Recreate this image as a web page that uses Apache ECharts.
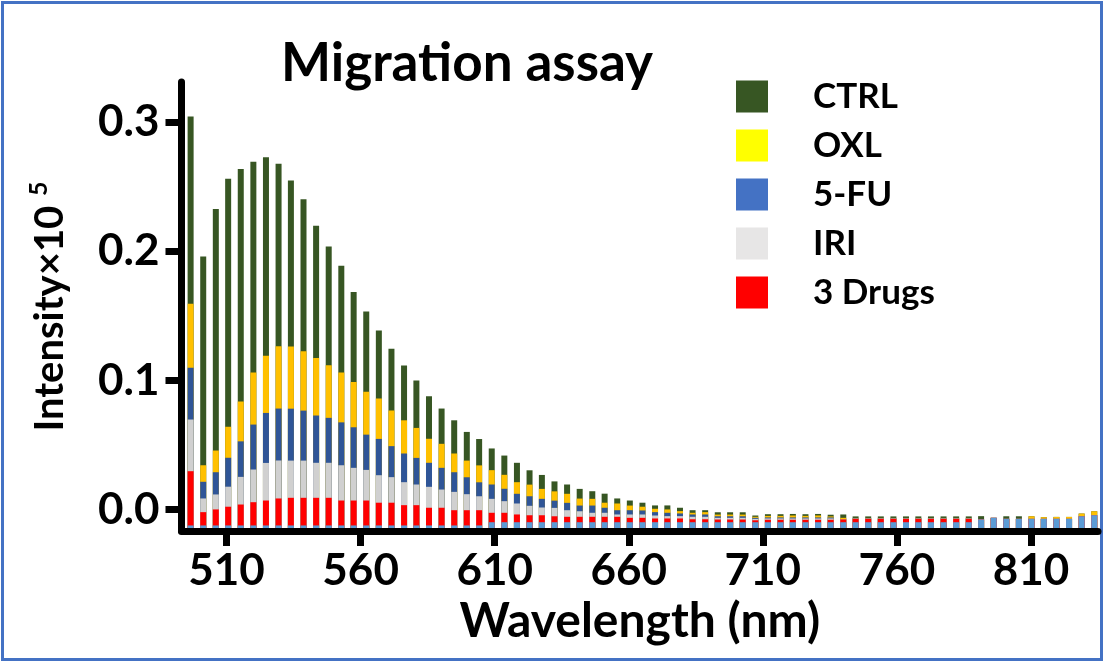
<!DOCTYPE html>
<html>
<head>
<meta charset="utf-8">
<script src="https://cdn.jsdelivr.net/npm/echarts@6/dist/echarts.min.js"></script>
<style>
  html, body { margin: 0; padding: 0; background: #fff; }
  #chart { width: 1105px; height: 663px; }
</style>
</head>
<body>
<div id="chart"></div>
<script>
// wavelength of every bar (nm)
const wavelengths = [
  496.6, 501.3, 506.0, 510.6, 515.3, 520.0, 524.7, 529.4, 534.0, 538.7,
  543.4, 548.1, 552.8, 557.4, 562.1, 566.8, 571.5, 576.2, 580.8, 585.5,
  590.2, 594.9, 599.6, 604.2, 608.9, 613.6, 618.3, 623.0, 627.6, 632.3,
  637.0, 641.7, 646.4, 651.0, 655.7, 660.4, 665.1, 669.8, 674.4, 679.1,
  683.8, 688.5, 693.2, 697.8, 702.5, 707.2, 711.9, 716.6, 721.2, 725.9,
  730.6, 735.3, 740.0, 744.6, 749.3, 754.0, 758.7, 763.4, 768.0, 772.7,
  777.4, 782.1, 786.8, 791.4, 796.1, 800.8, 805.5, 810.2, 814.8, 819.5,
  824.2, 828.9, 833.6
];

// layer heights (Intensity x10^5), bottom layer first
const baseLayer = [
  0.0043, 0.0043, 0.0043, 0.0043, 0.0043, 0.0043, 0.0043, 0.0043, 0.0043, 0.0043,
  0.0043, 0.0043, 0.0043, 0.0043, 0.0043, 0.0043, 0.0043, 0.0043, 0.0043, 0.0043,
  0.0043, 0.0043, 0.0043, 0.0043, 0.0068, 0.0068, 0.0068, 0.0068, 0.0068, 0.0068,
  0.0068, 0.0068, 0.0068, 0.0068, 0.0068, 0.0068, 0.0068, 0.0068, 0.0068, 0.0068,
  0.0068, 0.0068, 0.0068, 0.0068, 0.0068, 0.0068, 0.0068, 0.0068, 0.0068, 0.0068,
  0.0068, 0.0068, 0.0068, 0.0068, 0.0068, 0.0068, 0.0068, 0.0068, 0.0068, 0.0068,
  0.0068, 0.0068, 0.0068, 0.0089, 0.0102, 0.0094, 0.0094, 0.0094, 0.0094, 0.0094,
  0.0094, 0.0114, 0.0122
];
const drugs = [
  0.0420, 0.0103, 0.0124, 0.0145, 0.0162, 0.0180, 0.0193, 0.0209, 0.0214, 0.0214,
  0.0214, 0.0214, 0.0193, 0.0193, 0.0193, 0.0176, 0.0176, 0.0157, 0.0157, 0.0137,
  0.0137, 0.0118, 0.0118, 0.0118, 0.0073, 0.0073, 0.0060, 0.0054, 0.0054, 0.0046,
  0.0042, 0.0042, 0.0042, 0.0042, 0.0042, 0.0034, 0.0034, 0.0029, 0.0029, 0.0029,
  0.0023, 0.0023, 0.0021, 0.0021, 0.0021, 0.0015, 0.0019, 0.0019, 0.0019, 0.0019,
  0.0019, 0.0019, 0.0021, 0.0026, 0.0026, 0.0026, 0.0026, 0.0026, 0.0026, 0.0026,
  0.0026, 0.0026, 0.0026, 0, 0, 0, 0, 0, 0, 0,
  0, 0, 0
];
const iri = [
  0.0400, 0.0106, 0.0116, 0.0155, 0.0214, 0.0253, 0.0291, 0.0294, 0.0288, 0.0288,
  0.0271, 0.0271, 0.0273, 0.0253, 0.0237, 0.0213, 0.0198, 0.0178, 0.0160, 0.0162,
  0.0141, 0.0142, 0.0124, 0.0108, 0.0108, 0.0090, 0.0085, 0.0073, 0.0060, 0.0065,
  0.0051, 0.0043, 0.0031, 0.0031, 0.0018, 0.0026, 0.0026, 0.0023, 0.0018, 0.0018,
  0.0019, 0.0019, 0.0013, 0.0013, 0.0013, 0.0011, 0.0010, 0.0010, 0.0010, 0.0010,
  0.0010, 0.0010, 0, 0.0002, 0.0002, 0.0002, 0.0002, 0.0002, 0.0002, 0.0002,
  0.0002, 0.0002, 0.0002, 0, 0, 0, 0, 0, 0, 0,
  0, 0, 0
];
const fu = [
  0.0400, 0.0129, 0.0172, 0.0224, 0.0275, 0.0348, 0.0387, 0.0402, 0.0402, 0.0387,
  0.0366, 0.0348, 0.0332, 0.0314, 0.0273, 0.0281, 0.0240, 0.0222, 0.0206, 0.0186,
  0.0168, 0.0152, 0.0131, 0.0108, 0.0111, 0.0096, 0.0075, 0.0074, 0.0067, 0.0056,
  0.0057, 0.0044, 0.0056, 0.0039, 0.0033, 0.0033, 0.0031, 0.0026, 0.0026, 0.0021,
  0.0018, 0.0018, 0.0012, 0.0012, 0.0012, 0.0008, 0.0008, 0.0008, 0.0008, 0.0008,
  0.0008, 0.0008, 0, 0.0002, 0.0002, 0.0002, 0.0002, 0.0002, 0.0002, 0.0002,
  0.0002, 0.0002, 0.0002, 0, 0, 0, 0, 0, 0, 0,
  0, 0, 0
];
const oxl = [
  0.0497, 0.0128, 0.0168, 0.0240, 0.0309, 0.0404, 0.0443, 0.0482, 0.0482, 0.0459,
  0.0446, 0.0407, 0.0387, 0.0351, 0.0332, 0.0312, 0.0276, 0.0257, 0.0232, 0.0186,
  0.0186, 0.0145, 0.0129, 0.0131, 0.0111, 0.0108, 0.0090, 0.0090, 0.0077, 0.0072,
  0.0070, 0.0054, 0.0052, 0.0039, 0.0052, 0.0036, 0.0029, 0.0026, 0.0026, 0.0018,
  0.0013, 0.0018, 0.0013, 0.0013, 0.0013, 0.0008, 0.0012, 0.0012, 0.0015, 0.0012,
  0.0015, 0.0008, 0.0013, 0.0003, 0.0003, 0.0003, 0.0003, 0.0003, 0.0003, 0.0003,
  0.0003, 0.0003, 0.0003, 0, 0, 0, 0, 0.0020, 0.0013, 0.0015,
  0.0015, 0.0021, 0.0031
];
const ctrl = [
  0.1448, 0.1616, 0.1869, 0.1920, 0.1799, 0.1631, 0.1536, 0.1413, 0.1284, 0.1178,
  0.1023, 0.0920, 0.0825, 0.0696, 0.0622, 0.0528, 0.0477, 0.0425, 0.0368, 0.0329,
  0.0273, 0.0257, 0.0222, 0.0204, 0.0168, 0.0149, 0.0150, 0.0111, 0.0108, 0.0077,
  0.0072, 0.0075, 0.0059, 0.0070, 0.0039, 0.0039, 0.0031, 0.0026, 0.0031, 0.0026,
  0.0020, 0.0015, 0.0018, 0.0018, 0.0018, 0.0010, 0.0013, 0.0013, 0.0012, 0.0013,
  0.0012, 0.0013, 0.0026, 0.0012, 0.0012, 0.0012, 0.0012, 0.0012, 0.0012, 0.0012,
  0.0012, 0.0012, 0.0012, 0.0026, 0, 0.0020, 0.0020, 0, 0, 0,
  0, 0, 0
];

const xTicks = [510, 560, 610, 660, 710, 760, 810];
const yTicks = [0, 0.1, 0.2, 0.3];

// y axis floor sits a bit below 0.0, bars grow from the floor
const axisMin = -0.0166;
const axisMax = 0.331;

const FONT = 'Lato';

// running tops, bottom -> top
const layers = [baseLayer, drugs, iri, fu, oxl, ctrl];
const tops = [];
let run = wavelengths.map(() => axisMin);
layers.forEach(arr => {
  run = run.map((v, i) => +(v + arr[i]).toFixed(4));
  tops.push(run);
});

// drawn back to front: tallest first
const seriesDefs = [
  { name: 'CTRL', color: '#375623', legend: '#375623', top: tops[5] },
  { name: 'OXL', color: '#FFC000', legend: '#FFFF00', top: tops[4] },
  { name: '5-FU', color: '#2F5597', legend: '#4472C4', top: tops[3] },
  { name: 'IRI', color: '#D0D0D0', legend: '#E7E6E6', top: tops[2] },
  { name: '3 Drugs', color: '#FF0000', legend: '#FF0000', top: tops[1] },
  { name: 'base', color: '#5B9BD5', legend: null, top: tops[0] }
];

const chart = echarts.init(document.getElementById('chart'));

chart.setOption({
  animation: false,
  backgroundColor: '#fff',
  title: {
    text: 'Migration assay',
    left: 276,
    top: 32,
    textStyle: { fontFamily: FONT, fontSize: 53, fontWeight: 'bold', color: '#000' }
  },
  legend: {
    orient: 'vertical',
    left: 731,
    top: 74,
    itemWidth: 32,
    itemHeight: 32,
    itemGap: 14,
    icon: 'rect',
    selectedMode: false,
    data: seriesDefs.filter(s => s.legend).map(s => ({ name: s.name, itemStyle: { color: s.legend } })),
    textStyle: { fontFamily: FONT, fontSize: 35, fontWeight: 'bold', color: '#000', padding: [0, 0, 0, 40] }
  },
  grid: { left: 181.5, right: 7, top: 82, bottom: 132 },
  xAxis: {
    type: 'value',
    min: 493.2,
    max: 835,
    z: 5,
    name: 'Wavelength (nm)',
    nameLocation: 'middle',
    nameGap: 62,
    nameTextStyle: { fontFamily: FONT, fontSize: 48, fontWeight: 'bold', color: '#000' },
    axisLine: { show: true, onZero: false, lineStyle: { color: '#000', width: 7 } },
    axisTick: { show: true, length: 15, customValues: xTicks, lineStyle: { color: '#000', width: 7 } },
    axisLabel: {
      customValues: xTicks,
      margin: 18,
      fontFamily: FONT, fontSize: 44, fontWeight: 'bold', color: '#000'
    },
    splitLine: { show: false }
  },
  yAxis: {
    type: 'value',
    min: axisMin,
    max: axisMax,
    startValue: axisMin,
    z: 5,
    name: 'Intensity×10 {sup|5}',
    nameLocation: 'middle',
    nameRotate: 90,
    nameGap: 108,
    nameTextStyle: {
      fontFamily: FONT, fontSize: 40, fontWeight: 'bold', color: '#000',
      rich: {
        sup: { fontFamily: FONT, fontSize: 25, color: '#000', padding: [0, 0, 22, 0] }
      }
    },
    axisLine: { show: true, onZero: false, lineStyle: { color: '#000', width: 7 } },
    axisTick: { show: true, length: 16, customValues: yTicks, lineStyle: { color: '#000', width: 7 } },
    axisLabel: {
      customValues: yTicks,
      margin: 22,
      formatter: v => v.toFixed(1),
      fontFamily: FONT, fontSize: 44, fontWeight: 'bold', color: '#000'
    },
    splitLine: { show: false }
  },
  graphic: [{
    type: 'rect',
    silent: true,
    shape: { x: 2.5, y: 2.5, width: 1099, height: 657 },
    style: { fill: 'none', stroke: '#4472C4', lineWidth: 3 }
  }],
  series: seriesDefs.map(s => ({
    name: s.name,
    type: 'bar',
    barWidth: 6,
    barGap: '-100%',
    data: wavelengths.map((w, i) => [w, s.top[i]]),
    itemStyle: { color: s.color }
  }))
});
</script>
</body>
</html>
